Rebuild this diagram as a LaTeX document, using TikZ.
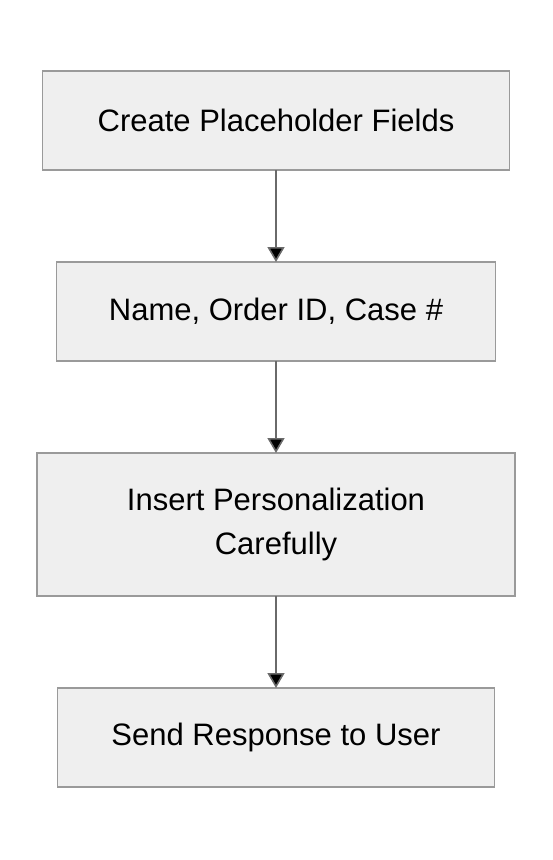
\documentclass[tikz,border=0pt]{standalone}
\usepackage{fontspec}
\setmainfont{Liberation Sans}
\usetikzlibrary{arrows.meta,positioning}
\definecolor{boxfill}{HTML}{EFEFEF}
\definecolor{boxline}{HTML}{9A9A9A}
\definecolor{arrowline}{HTML}{6A6A6A}
\begin{document}
\begin{tikzpicture}[x=1pt, y=-1pt, node distance=92pt,
                    main node/.style={draw=boxline, fill=boxfill, line width=1.5pt,
                      minimum height=99pt, align=center, inner sep=0pt, outer sep=0pt,
                      font=\fontsize{31}{44}\selectfont},
                    flow/.style={draw=arrowline, line width=1.6pt,
                      -{Triangle[width=17pt,length=15pt]}}]

  \useasboundingbox (0,0) rectangle (552,860);

  \node[main node, minimum width=467pt] (create) at (276,120.5) {Create Placeholder Fields};
  \node[main node, minimum width=439pt] (fields) [below=of create] {Name, Order ID, Case \#};
  \node[main node, minimum width=478pt, minimum height=143pt] (insert) [below=of fields] {Insert Personalization\\Carefully};
  \node[main node, minimum width=437pt] (send) [below=of insert] {Send Response to User};

  \path[flow]
    (create) edge (fields)
    (fields) edge (insert)
    (insert) edge (send);
\end{tikzpicture}
\end{document}
